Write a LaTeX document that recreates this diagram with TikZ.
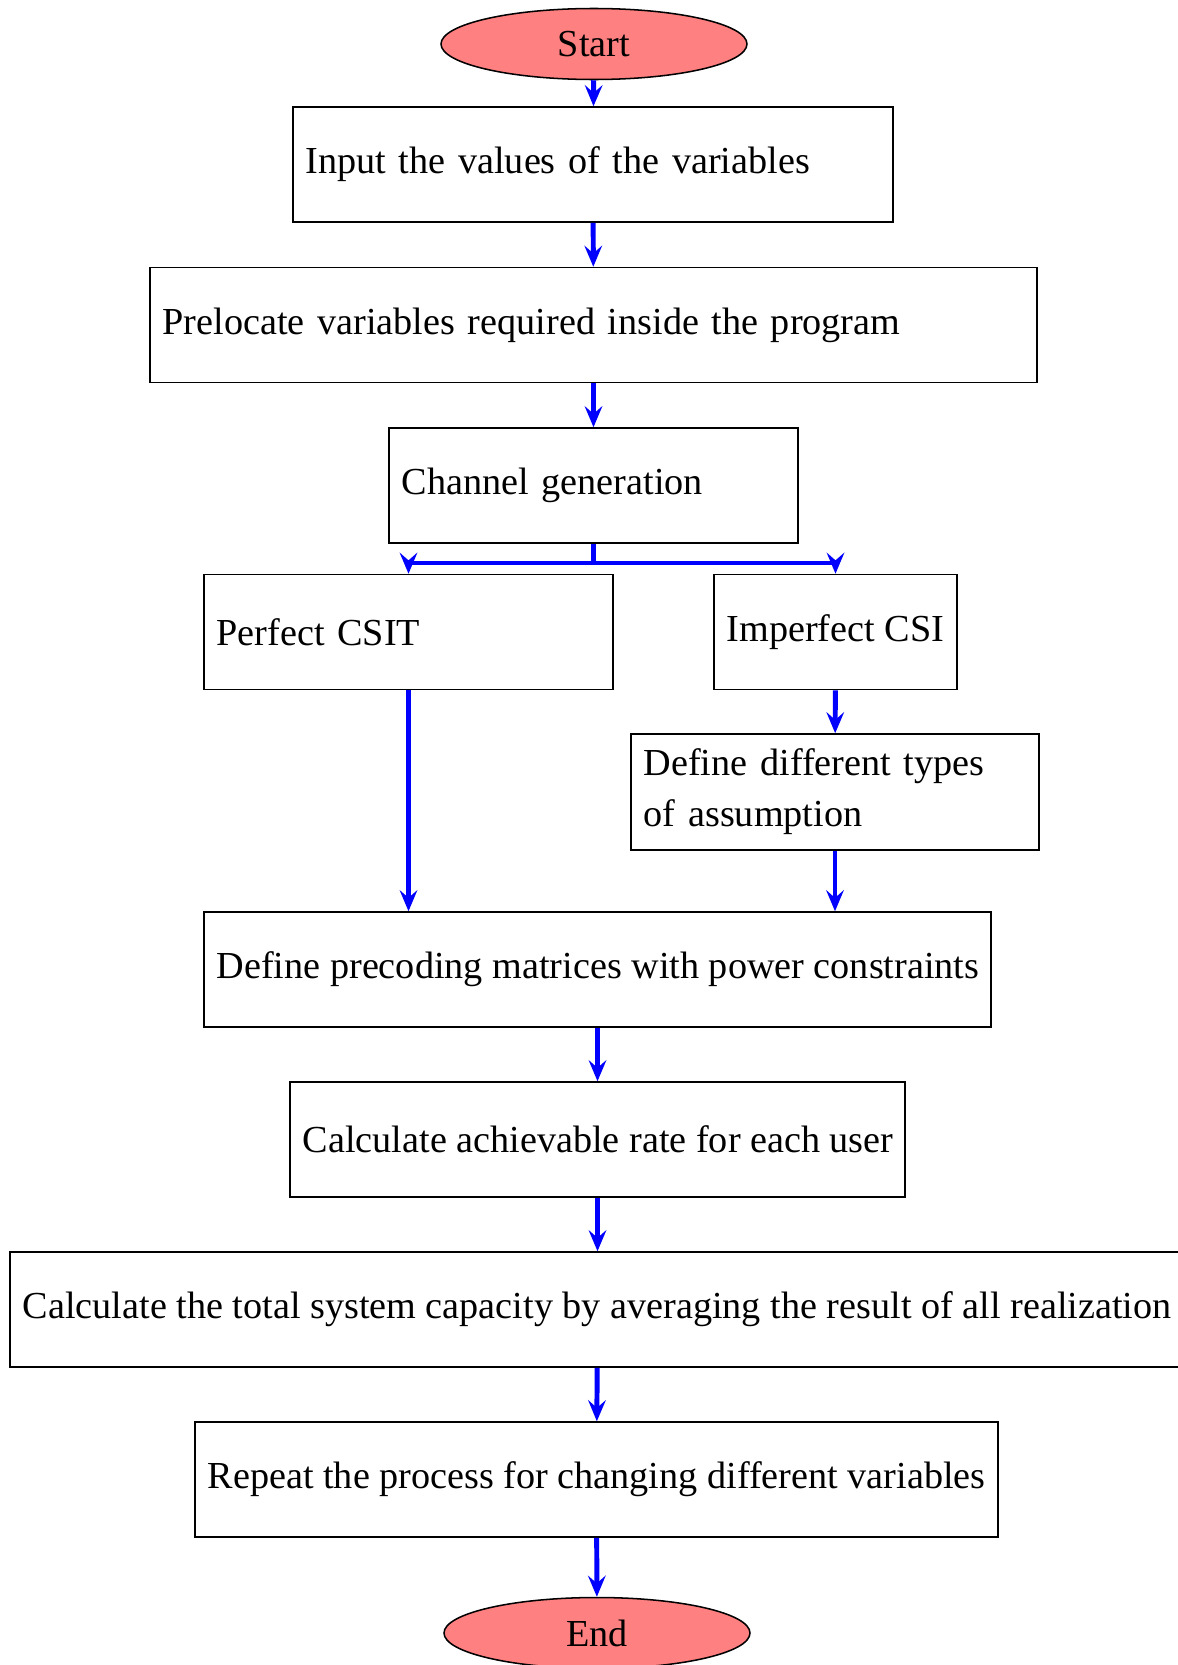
\documentclass[tikz,border=0pt]{standalone}
\usepackage{fontspec}
\setmainfont{Liberation Serif}
\usetikzlibrary{shapes.geometric,arrows.meta}
\newdimen\pxu \pxu=0.2618pt
\newcommand{\boxfont}{\fontsize{10pt}{13.4pt}\selectfont}
\newcommand{\widefont}{\fontsize{10pt}{13.4pt}\selectfont\spaceskip=0.33em\relax}
\newcommand{\lbox}[2]{\makebox[#1\pxu][l]{#2}}
\begin{document}
\begin{tikzpicture}[x=0.2618pt,y=-0.2618pt,
  box/.style={draw=black, line width=0.4pt, rectangle, minimum height=115\pxu,
    inner sep=12.7\pxu, font=\boxfont},
  widebox/.style={box, font=\widefont},
  term/.style={draw=black, line width=0.4pt, ellipse, fill=red!50,
    minimum width=306\pxu, minimum height=71\pxu, inner sep=0pt,
    font=\fontsize{10pt}{12pt}\selectfont},
  flow/.style={draw=blue, line width=1.3pt,
    -{Stealth[length=5.5pt,width=4.6pt,inset=2pt]}},
  plain/.style={draw=blue, line width=1.3pt}]
\useasboundingbox (0,0) rectangle (1178,1665);

\node[term] (start) at (594,44) {Start};
\node[widebox] (input) at (593,164.5) {\lbox{574.6}{Input the values of the variables}};
\node[widebox] (preloc) at (593.5,325) {\lbox{861.6}{Prelocate variables required inside the program}};
\node[widebox] (chan) at (593.5,485.5) {\lbox{383.6}{Channel generation}};
\node[widebox] (perfect) at (408.5,632) {\lbox{383.6}{Perfect CSIT}};
\node[box] (imperfect) at (835.5,632) {\lbox{217.6}{Imperfect CSI}};
\node[box, text width=382.6\pxu, align=left, minimum height=116\pxu] (types) at (835,792) {Define different types\\of assumption};
\node[box] (precod) at (597.5,969.5) {\lbox{761.6}{Define precoding matrices with power constraints}};
\node[box] (rate) at (597.5,1139.5) {\lbox{589.6}{Calculate achievable rate for each user}};
\node[box] (total) at (597.5,1309.5) {\lbox{1149.6}{Calculate the total system capacity by averaging the result of all realization}};
\node[box] (repeat) at (596.5,1479.5) {\lbox{777.6}{Repeat the process for changing different variables}};
\node[term] (end) at (597,1633) {End};

\coordinate (split) at (593.5,563);

\draw[flow] (start) -- (input);
\draw[flow] (input) -- (preloc);
\draw[flow] (preloc) -- (chan);
\draw[plain] (chan.south) -- (split);
\draw[flow] (split) -| (perfect.north);
\draw[flow] (split) -| (imperfect.north);
\draw[flow] (perfect.south) -- (perfect.south |- precod.north);
\draw[flow] (imperfect) -- (types);
\draw[flow] (types.south) -- (types.south |- precod.north);
\draw[flow] (precod) -- (rate);
\draw[flow] (rate) -- (total);
\draw[flow] (total) -- (repeat);
\draw[flow] (repeat) -- (end);
\end{tikzpicture}
\end{document}
